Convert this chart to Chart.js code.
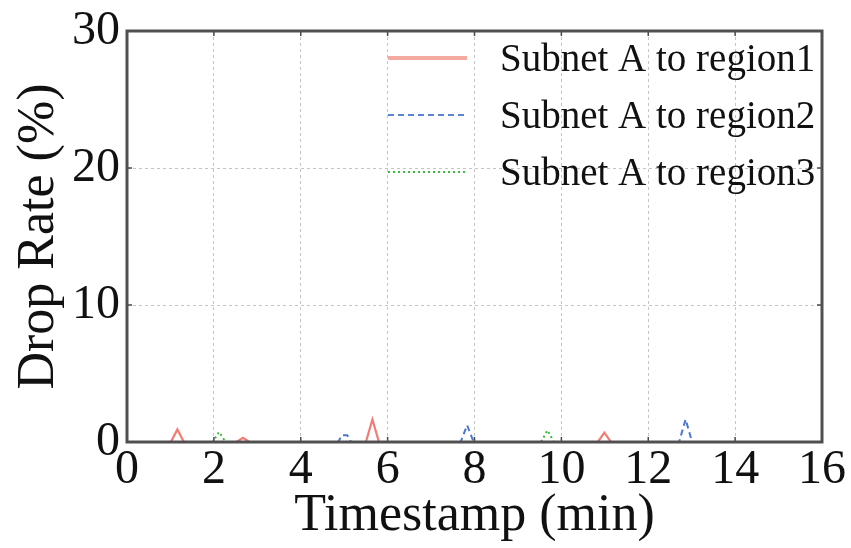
<!DOCTYPE html>
<html>
<head>
<meta charset="utf-8">
<style>
  body { margin: 0; background: #fff; }
  canvas { display: block; }
</style>
<script src="https://cdn.jsdelivr.net/npm/chart.js@4"></script>
</head>
<body>
<canvas id="grafico" width="851" height="548"></canvas>
<script>
// datos (minutos, % de perdida)
const region1X = [0, 1.01, 1.16, 1.31, 2.52, 2.67, 2.82, 5.50, 5.65, 5.80, 10.84, 10.99, 11.14, 14.5];
const region1Y = [0, 0, 0.92, 0, 0, 0.30, 0, 0, 1.65, 0, 0, 0.68, 0, 0];
const region2X = [0, 4.86, 4.95, 5.07, 5.16, 7.68, 7.83, 7.98, 12.71, 12.86, 13.01, 14.5];
const region2Y = [0, 0, 0.50, 0.50, 0, 0, 1.23, 0, 0, 1.65, 0, 0];
const region3X = [0, 1.97, 2.12, 2.27, 9.53, 9.68, 9.83, 14.5];
const region3Y = [0, 0, 0.73, 0, 0, 0.85, 0, 0];
const etiquetas = ['Subnet A to region1', 'Subnet A to region2', 'Subnet A to region3'];
const xTicks = [0, 2, 4, 6, 8, 10, 12, 14, 16];
const yTicks = [0, 10, 20, 30];

const fuente = '"Liberation Serif", "DejaVu Serif", serif';

function puntos(xs, ys) {
    return xs.map((x, i) => ({ x: x, y: ys[i] }));
}

// marco, marcas internas y leyenda dentro del area
const marcoPlugin = {
    id: 'marco',
    afterDatasetsDraw(chart) {
        const ctx = chart.ctx;
        const a = chart.chartArea;
        const sx = chart.scales.x;
        const sy = chart.scales.y;
        ctx.save();
        ctx.strokeStyle = '#4a4a4a';
        ctx.lineWidth = 1.5;
        xTicks.forEach(v => {
            const px = sx.getPixelForValue(v);
            ctx.beginPath();
            ctx.moveTo(px, a.bottom); ctx.lineTo(px, a.bottom - 5);
            ctx.moveTo(px, a.top); ctx.lineTo(px, a.top + 5);
            ctx.stroke();
        });
        yTicks.forEach(v => {
            const py = sy.getPixelForValue(v);
            ctx.beginPath();
            ctx.moveTo(a.left, py); ctx.lineTo(a.left + 5, py);
            ctx.moveTo(a.right, py); ctx.lineTo(a.right - 5, py);
            ctx.stroke();
        });
        ctx.lineWidth = 3;
        ctx.strokeStyle = '#505050';
        ctx.strokeRect(a.left, a.top, a.right - a.left, a.bottom - a.top);

        // leyenda
        const filas = [58, 115, 172];
        ctx.font = '39px ' + fuente;
        ctx.textBaseline = 'middle';
        ctx.fillStyle = '#111';
        chart.data.datasets.forEach((ds, i) => {
            ctx.beginPath();
            ctx.strokeStyle = ds.legendColor;
            ctx.lineWidth = ds.legendWidth;
            ctx.setLineDash(ds.borderDash || []);
            ctx.moveTo(388, filas[i]);
            ctx.lineTo(467, filas[i]);
            ctx.stroke();
            ctx.setLineDash([]);
            ctx.fillText(ds.label, 500, filas[i] + 3);
        });
        ctx.restore();
    }
};

new Chart(document.getElementById('grafico'), {
    type: 'line',
    data: {
        datasets: [
            {
                label: etiquetas[0],
                data: puntos(region1X, region1Y),
                borderColor: 'rgba(240,110,100,0.9)',
                legendColor: 'rgba(240,140,130,0.75)',
                legendWidth: 4,
                borderWidth: 2.2,
                pointRadius: 0,
                tension: 0
            },
            {
                label: etiquetas[1],
                data: puntos(region2X, region2Y),
                borderColor: '#4a78d0',
                legendColor: '#5a84d4',
                legendWidth: 2,
                borderWidth: 2,
                borderDash: [6, 4],
                pointRadius: 0,
                tension: 0
            },
            {
                label: etiquetas[2],
                data: puntos(region3X, region3Y),
                borderColor: '#3fb83f',
                legendColor: '#3fb83f',
                legendWidth: 2,
                borderWidth: 2,
                borderDash: [2, 3],
                pointRadius: 0,
                tension: 0
            }
        ]
    },
    options: {
        responsive: false,
        animation: false,
        layout: { padding: { top: 29, right: 29, left: 0, bottom: 0 } },
        plugins: {
            legend: { display: false },
            tooltip: { enabled: false }
        },
        scales: {
            x: {
                type: 'linear',
                min: 0,
                max: 16,
                afterFit: (s) => { s.height = 106; },
                afterBuildTicks: (s) => { s.ticks = xTicks.map(v => ({ value: v })); },
                ticks: {
                    font: { family: fuente, size: 48, lineHeight: 1 },
                    color: '#111',
                    padding: 4,
                    maxRotation: 0
                },
                grid: { color: '#c4c4c4', lineWidth: 1, drawTicks: false },
                border: { display: false, dash: [3, 3] },
                title: {
                    display: true,
                    text: 'Timestamp (min)',
                    font: { family: fuente, size: 52, lineHeight: 1.2 },
                    color: '#111',
                    padding: { top: 0, bottom: 0 }
                }
            },
            y: {
                min: 0,
                max: 30,
                afterFit: (s) => { s.width = 127; },
                afterBuildTicks: (s) => { s.ticks = yTicks.map(v => ({ value: v })); },
                ticks: {
                    font: { family: fuente, size: 48, lineHeight: 1 },
                    color: '#111',
                    padding: 7
                },
                grid: { color: '#c4c4c4', lineWidth: 1, drawTicks: false },
                border: { display: false, dash: [3, 3] },
                title: {
                    display: true,
                    text: 'Drop Rate (%)',
                    font: { family: fuente, size: 52, lineHeight: 1.2 },
                    color: '#111',
                    padding: { top: 8, bottom: 0 }
                }
            }
        }
    },
    plugins: [marcoPlugin]
});
</script>
</body>
</html>
